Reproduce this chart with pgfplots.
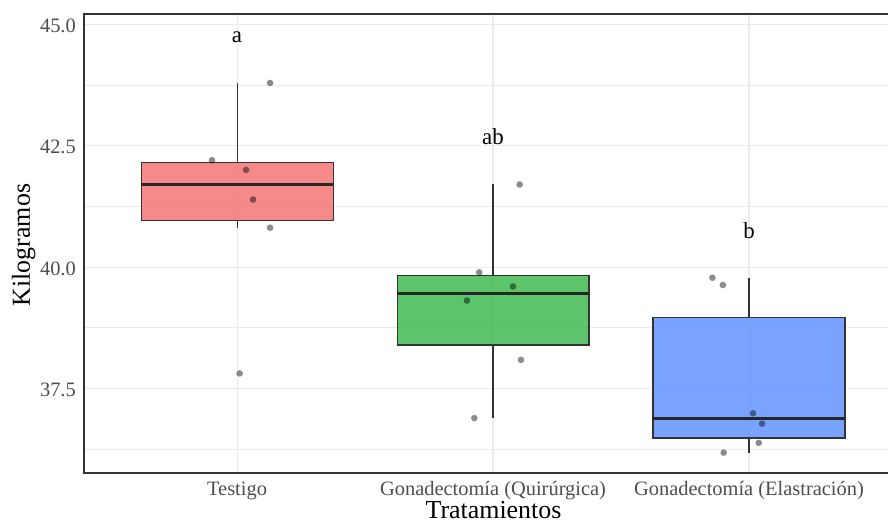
\documentclass[border=0pt]{standalone}
\usepackage{fontspec}
\setmainfont{Liberation Serif}
\usepackage{pgfplots}
\pgfplotsset{compat=1.18}

\definecolor{ggred}{HTML}{F47475}
\definecolor{gggreen}{HTML}{3FBA51}
\definecolor{ggblue}{HTML}{6393FF}
\definecolor{gridgray}{HTML}{EBEBEB}
\definecolor{framegray}{HTML}{333333}
\definecolor{labelgray}{HTML}{4D4D4D}

\pgfplotsset{
  whisker/.style={framegray, line width=1.1bp, forget plot},
  box/.style={draw=framegray, line width=1.1bp, fill opacity=0.85, draw opacity=1, forget plot},
  median/.style={black!85, line width=2.6bp, forget plot},
}

\begin{document}
\begin{tikzpicture}
\begin{axis}[
  width=804bp, height=459bp, scale only axis,
  xmin=0.402, xmax=3.543, ymin=35.76, ymax=45.21,
  axis line style={draw=none},
  clip=false,
  xtick={1,2,3},
  xticklabels={Testigo, Gonadectomía (Quirúrgica), Gonadectomía (Elastración)},
  ytick={37.5,40,42.5,45},
  yticklabels={37.5,40.0,42.5,45.0},
  minor ytick={36.25,38.75,41.25,43.75},
  xmajorgrids, ymajorgrids, yminorgrids,
  major grid style={gridgray, line width=1.1bp},
  minor grid style={gridgray, line width=0.6bp},
  major tick length=0pt, minor tick length=0pt,
  tick label style={font=\fontsize{20.5}{24}\selectfont, text=labelgray},
  yticklabel style={anchor=east, inner sep=0pt, xshift=-8bp, yshift=-1.5bp},
  xticklabel style={anchor=base, inner sep=0pt, yshift=-22.5bp},
]

% Testigo: whiskers 40.81-43.79, box 40.955-42.15, median 41.695
\addplot[whisker] coordinates {(1,42.15) (1,43.79)};
\addplot[whisker] coordinates {(1,40.955) (1,40.81)};
\addplot[box, fill=ggred] coordinates {(0.625,40.955) (1.375,40.955) (1.375,42.15) (0.625,42.15)} -- cycle;
\addplot[median] coordinates {(0.625,41.695) (1.375,41.695)};

% Gonadectomía (Quirúrgica): whiskers 36.89-41.70, box 38.395-39.82, median 39.455
\addplot[whisker] coordinates {(2,39.82) (2,41.70)};
\addplot[whisker] coordinates {(2,38.395) (2,36.89)};
\addplot[box, fill=gggreen] coordinates {(1.625,38.395) (2.375,38.395) (2.375,39.82) (1.625,39.82)} -- cycle;
\addplot[median] coordinates {(1.625,39.455) (2.375,39.455)};

% Gonadectomía (Elastración): whiskers 36.18-39.78, box 36.48-38.97, median 36.88
\addplot[whisker] coordinates {(3,38.97) (3,39.78)};
\addplot[whisker] coordinates {(3,36.48) (3,36.18)};
\addplot[box, fill=ggblue] coordinates {(2.625,36.48) (3.375,36.48) (3.375,38.97) (2.625,38.97)} -- cycle;
\addplot[median] coordinates {(2.625,36.88) (3.375,36.88)};

% individual animals (jittered)
\addplot[only marks, mark=*, mark size=3.3bp,
  mark options={fill=black, fill opacity=0.45, draw opacity=0}] coordinates {
  (1.129,43.79) (0.902,42.20) (1.035,42.00) (1.0625,41.39) (1.129,40.81) (1.01,37.81)
  (2.104,41.70) (1.946,39.89) (2.078,39.60) (1.898,39.31) (2.109,38.09) (1.927,36.89)
  (2.857,39.78) (2.898,39.63) (3.016,36.99) (3.051,36.775) (3.038,36.38) (2.901,36.18)
};

% significance letters
\node[anchor=base, font=\fontsize{23}{27}\selectfont] at (axis cs:1,44.615) {a};
\node[anchor=base, font=\fontsize{23}{27}\selectfont] at (axis cs:2,42.526) {ab};
\node[anchor=base, font=\fontsize{23}{27}\selectfont] at (axis cs:3,40.593) {b};

% panel border (left, top, bottom)
\draw[framegray, line width=1.3bp] (rel axis cs:1.02,1) -- (rel axis cs:0,1)
  -- (rel axis cs:0,0) -- (rel axis cs:1.02,0);
\end{axis}

\node[anchor=base, font=\fontsize{26}{30}\selectfont] at (409.5bp,-45.5bp) {Tratamientos};
\node[anchor=base, rotate=90, font=\fontsize{26}{30}\selectfont] at (-54bp,228bp) {Kilogramos};

\pgfresetboundingbox
\path[use as bounding box] (-84bp,-50bp) rectangle (804bp,473bp);
\end{tikzpicture}
\end{document}
